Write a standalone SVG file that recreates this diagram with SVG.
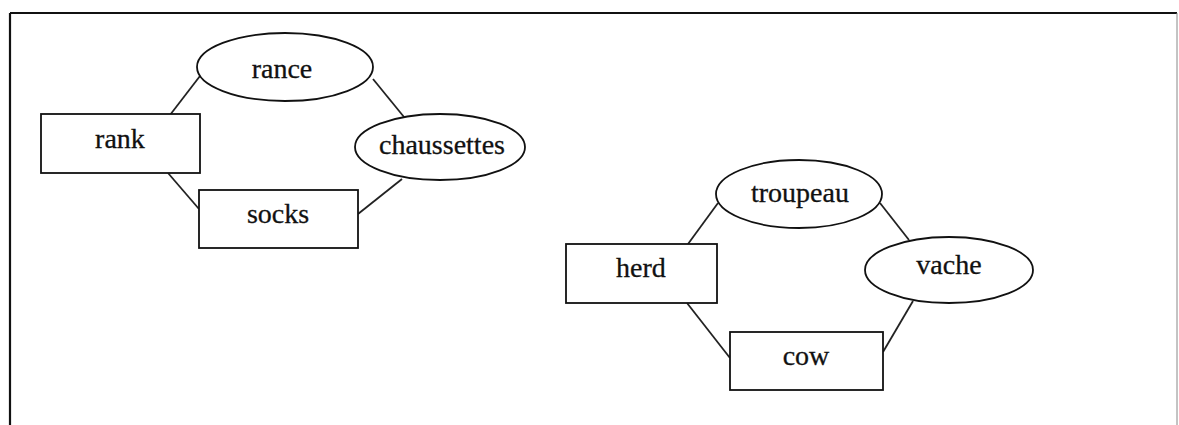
<svg xmlns="http://www.w3.org/2000/svg" width="1179" height="425" viewBox="0 0 1179 425">
<style>
.shape{fill:#fff;stroke:#111;stroke-width:1.8}
.edge{stroke:#222;stroke-width:1.8;fill:none}
text{font-family:"Liberation Serif","Times New Roman",serif;font-size:28px;fill:#111;stroke:#111;stroke-width:0.3;text-anchor:middle}
</style>
<rect width="1179" height="425" fill="#fff"/>
<g id="frame">
<line x1="10" y1="13" x2="1177" y2="13" stroke="#111" stroke-width="2.2"/>
<line x1="10" y1="13" x2="10" y2="425" stroke="#111" stroke-width="2.2"/>
<line x1="1177" y1="13" x2="1177" y2="425" stroke="#888" stroke-width="1"/>
</g>
<g id="connectors">
<line class="edge" x1="200" y1="76" x2="170" y2="115"/>
<line class="edge" x1="373" y1="79" x2="404" y2="117"/>
<line class="edge" x1="168" y1="173" x2="199" y2="209"/>
<line class="edge" x1="402" y1="179" x2="358" y2="214"/>
<line class="edge" x1="718" y1="203" x2="688" y2="244"/>
<line class="edge" x1="880" y1="203" x2="909" y2="240"/>
<line class="edge" x1="687" y1="303" x2="730" y2="358"/>
<line class="edge" x1="913" y1="301" x2="883" y2="352"/>
</g>
<g id="rance"><ellipse class="shape" cx="285" cy="67" rx="88" ry="34"/><text x="282" y="78">rance</text></g>
<g id="rank"><rect class="shape" x="41" y="114" width="159" height="59"/><text x="120" y="148">rank</text></g>
<g id="chaussettes"><ellipse class="shape" cx="440" cy="147" rx="85" ry="33"/><text x="442" y="154">chaussettes</text></g>
<g id="socks"><rect class="shape" x="199" y="190" width="159" height="58"/><text x="278" y="223">socks</text></g>
<g id="troupeau"><ellipse class="shape" cx="799" cy="194" rx="83" ry="34"/><text x="800" y="202">troupeau</text></g>
<g id="herd"><rect class="shape" x="566" y="244" width="151" height="59"/><text x="641" y="277">herd</text></g>
<g id="vache"><ellipse class="shape" cx="949" cy="270" rx="84" ry="33"/><text x="949" y="274">vache</text></g>
<g id="cow"><rect class="shape" x="730" y="332" width="153" height="58"/><text x="806" y="365">cow</text></g>
</svg>
